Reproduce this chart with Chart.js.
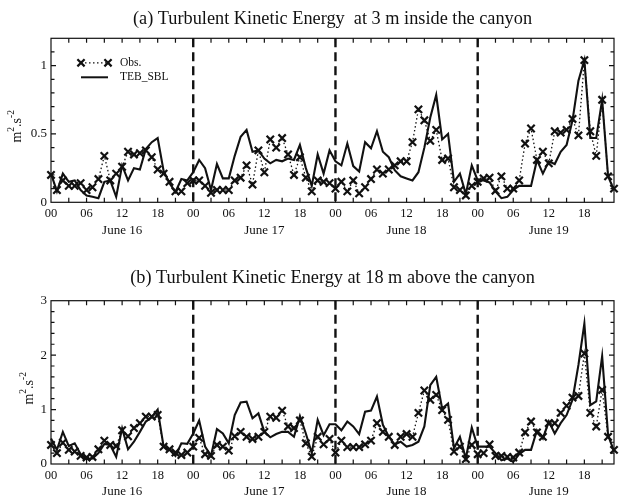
<!DOCTYPE html>
<html>
<head>
<meta charset="utf-8">
<script src="https://cdn.jsdelivr.net/npm/chart.js@4"></script>
<style>
  html, body { margin: 0; padding: 0; background: #fff; }
  body { width: 623px; height: 500px; position: relative; overflow: hidden; }
  canvas { position: absolute; left: 0; }
</style>
</head>
<body>
<canvas id="tke3m" width="623" height="250" style="top:0px"></canvas>
<canvas id="tke18m" width="623" height="246" style="top:254px"></canvas>
<script>
// Hourly samples, 00h June 16 through 23h June 19
const hours = Array.from({ length: 96 }, (_, i) => i);

// TKE at 3 m inside the canyon (m2.s-2)
const obs3m = [
  0.20, 0.09, 0.16, 0.12, 0.12, 0.14, 0.09, 0.11, 0.17, 0.34, 0.16, 0.21,
  0.26, 0.37, 0.35, 0.36, 0.38, 0.33, 0.24, 0.21, 0.15, 0.08, 0.08, 0.14,
  0.16, 0.16, 0.12, 0.07, 0.09, 0.09, 0.09, 0.16, 0.18, 0.27, 0.13, 0.38,
  0.22, 0.46, 0.40, 0.47, 0.35, 0.20, 0.33, 0.18, 0.08, 0.16, 0.15, 0.14,
  0.10, 0.15, 0.08, 0.16, 0.065, 0.11, 0.17, 0.24, 0.21, 0.24, 0.27, 0.30,
  0.30, 0.44, 0.68, 0.60, 0.45, 0.53, 0.31, 0.32, 0.11, 0.09, 0.05, 0.12,
  0.15, 0.175, 0.18, 0.085, 0.19, 0.10, 0.10, 0.16, 0.43, 0.54, 0.31, 0.37,
  0.285, 0.52, 0.51, 0.53, 0.61, 0.49, 1.04, 0.52, 0.34, 0.75, 0.19, 0.10
];
const teb3m = [
  0.21, 0.08, 0.21, 0.15, 0.16, 0.09, 0.05, 0.04, 0.03, 0.15, 0.16, 0.04,
  0.27, 0.16, 0.25, 0.24, 0.39, 0.44, 0.47, 0.23, 0.14, 0.075, 0.17, 0.16,
  0.22, 0.31, 0.25, 0.09, 0.28, 0.175, 0.175, 0.34, 0.48, 0.53, 0.37, 0.38,
  0.32, 0.285, 0.31, 0.30, 0.32, 0.31, 0.42, 0.25, 0.12, 0.35, 0.21, 0.38,
  0.30, 0.27, 0.43, 0.265, 0.225, 0.44, 0.395, 0.52, 0.37, 0.33, 0.235, 0.19,
  0.175, 0.16, 0.22, 0.40, 0.62, 0.785, 0.46, 0.50, 0.15, 0.21, 0.06, 0.27,
  0.16, 0.16, 0.145, 0.08, 0.03, 0.04, 0.09, 0.12, 0.12, 0.12, 0.31, 0.21,
  0.30, 0.28, 0.37, 0.42, 0.60, 0.89, 1.04, 0.47, 0.47, 0.75, 0.19, 0.09
];

// TKE at 18 m above the canyon (m2.s-2)
const obs18m = [
  0.35, 0.20, 0.39, 0.26, 0.23, 0.15, 0.12, 0.13, 0.27, 0.43, 0.35, 0.33,
  0.62, 0.51, 0.66, 0.75, 0.87, 0.87, 0.90, 0.32, 0.27, 0.21, 0.165, 0.21,
  0.32, 0.48, 0.18, 0.15, 0.35, 0.32, 0.245, 0.51, 0.59, 0.50, 0.46, 0.50,
  0.59, 0.87, 0.85, 0.98, 0.69, 0.66, 0.80, 0.38, 0.135, 0.50, 0.36, 0.46,
  0.21, 0.43, 0.31, 0.31, 0.31, 0.36, 0.43, 0.75, 0.59, 0.50, 0.35, 0.50,
  0.55, 0.50, 0.94, 1.35, 1.18, 1.27, 0.99, 0.81, 0.23, 0.32, 0.09, 0.35,
  0.18, 0.20, 0.36, 0.15, 0.15, 0.13, 0.12, 0.21, 0.58, 0.78, 0.58, 0.50,
  0.75, 0.75, 0.94, 1.07, 1.22, 1.25, 2.03, 0.94, 0.69, 1.36, 0.50, 0.26
];
const teb18m = [
  0.47, 0.26, 0.59, 0.33, 0.38, 0.18, 0.09, 0.10, 0.20, 0.37, 0.35, 0.13,
  0.655, 0.27, 0.41, 0.59, 0.78, 0.86, 1.00, 0.32, 0.26, 0.15, 0.38, 0.37,
  0.56, 0.80, 0.32, 0.15, 0.64, 0.56, 0.38, 0.90, 1.13, 1.145, 0.84, 0.93,
  0.59, 0.49, 0.55, 0.59, 0.59, 0.50, 0.88, 0.56, 0.20, 0.81, 0.53, 0.73,
  0.73, 0.62, 0.78, 0.69, 0.55, 0.96, 0.98, 1.24, 0.72, 0.50, 0.36, 0.41,
  0.32, 0.35, 0.41, 0.69, 1.45, 1.60, 1.02, 1.11, 0.29, 0.50, 0.10, 0.67,
  0.32, 0.32, 0.32, 0.20, 0.07, 0.10, 0.04, 0.18, 0.26, 0.26, 0.62, 0.47,
  0.78, 0.56, 0.75, 0.90, 1.18, 1.82, 2.58, 1.08, 1.15, 1.98, 0.53, 0.23
];

// Axis labelling
const hourTickLabels = ['00', '06', '12', '18'];
const dayLabels = ['June 16', 'June 17', 'June 18', 'June 19'];
const dayBreaks = [24, 48, 72];
const yTicks3m = [0, 0.5, 1];
const yTicks18m = [0, 1, 2, 3];
const seriesNames = ['Obs.', 'TEB_SBL'];

const SERIF = '"Liberation Serif", "Times New Roman", Times, serif';
const INK = '#111';

function crossMark(ctx, cx, cy, r) {
  ctx.moveTo(cx - r, cy - r); ctx.lineTo(cx + r, cy + r);
  ctx.moveTo(cx - r, cy + r); ctx.lineTo(cx + r, cy - r);
}

// Boxed axes with inward ticks, day separators, day names, unit label, title and legend
const axesFrame = {
  id: 'axesFrame',
  beforeDatasetsDraw(chart) {
    const { ctx, chartArea: a, scales: { x } } = chart;
    ctx.save();
    ctx.strokeStyle = INK;
    ctx.lineWidth = 2.4;
    ctx.setLineDash([9, 5]);
    dayBreaks.forEach(h => {
      const px = x.getPixelForValue(h);
      ctx.beginPath();
      ctx.moveTo(px, a.top);
      ctx.lineTo(px, a.bottom);
      ctx.stroke();
    });
    ctx.restore();
  },
  afterDraw(chart, args, o) {
    const { ctx, chartArea: a, scales: { x, y } } = chart;
    ctx.save();
    ctx.strokeStyle = INK;
    ctx.fillStyle = INK;
    ctx.lineWidth = 1.2;
    ctx.setLineDash([]);
    ctx.strokeRect(a.left, a.top, a.right - a.left, a.bottom - a.top);

    ctx.beginPath();
    for (let h = 3; h < x.max; h += 3) {
      const px = x.getPixelForValue(h);
      ctx.moveTo(px, a.bottom); ctx.lineTo(px, a.bottom - 4.5);
      ctx.moveTo(px, a.top); ctx.lineTo(px, a.top + 4.5);
    }
    const n = Math.round(y.max / o.yMinor);
    for (let i = 1; i < n; i++) {
      const v = i * o.yMinor;
      const major = o.yTicks.some(t => Math.abs(t - v) < 1e-6);
      const len = major ? 5 : 3.5;
      const py = y.getPixelForValue(v);
      ctx.moveTo(a.left, py); ctx.lineTo(a.left + len, py);
      ctx.moveTo(a.right, py); ctx.lineTo(a.right - len, py);
    }
    ctx.stroke();

    // panel title, centred over the plot box
    ctx.font = `18.3px ${SERIF}`;
    ctx.textAlign = 'center';
    ctx.textBaseline = 'alphabetic';
    ctx.fillText(o.title, (a.left + a.right) / 2, o.titleY);

    // day names under the hour labels
    ctx.font = `13px ${SERIF}`;
    ctx.textAlign = 'center';
    ctx.textBaseline = 'middle';
    dayLabels.forEach((d, i) => {
      ctx.fillText(d, x.getPixelForValue(12 + 24 * i), a.bottom + 28);
    });

    // unit label  m^2.s^-2, rotated
    ctx.save();
    const cy = (a.top + a.bottom) / 2 + 6;
    ctx.translate(o.unitX, cy);
    ctx.rotate(-Math.PI / 2);
    ctx.textAlign = 'left';
    ctx.textBaseline = 'alphabetic';
    const big = `14px ${SERIF}`, small = `9.5px ${SERIF}`;
    const parts = [['m', big, 0], ['2', small, -7], ['.s', big, 0], ['-2', small, -7]];
    let w = 0;
    parts.forEach(p => { ctx.font = p[1]; w += ctx.measureText(p[0]).width; });
    let cx = -w / 2;
    parts.forEach(p => {
      ctx.font = p[1];
      ctx.fillText(p[0], cx, p[2]);
      cx += ctx.measureText(p[0]).width;
    });
    ctx.restore();

    // legend
    if (o.legend) {
      const lx0 = a.left + 30, lx1 = a.left + 57, tx = a.left + 69;
      const r1 = a.top + 24.5, r2 = a.top + 39;
      ctx.lineWidth = 1.3;
      ctx.setLineDash([1.5, 2.5]);
      ctx.beginPath(); ctx.moveTo(lx0, r1); ctx.lineTo(lx1, r1); ctx.stroke();
      ctx.setLineDash([]);
      ctx.lineWidth = 2.2;
      ctx.beginPath(); crossMark(ctx, lx0, r1, 3.6); crossMark(ctx, lx1, r1, 3.6); ctx.stroke();
      ctx.lineWidth = 2;
      ctx.beginPath(); ctx.moveTo(lx0, r2); ctx.lineTo(lx1, r2); ctx.stroke();
      ctx.font = `11.5px ${SERIF}`;
      ctx.textAlign = 'left';
      ctx.textBaseline = 'middle';
      ctx.fillText(seriesNames[0], tx, r1);
      ctx.fillText(seriesNames[1], tx, r2);
    }
    ctx.restore();
  }
};

function buildChart(id, title, obs, teb, yMax, yTicks, cfg) {
  return new Chart(document.getElementById(id), {
    type: 'line',
    data: {
      datasets: [
        {
          label: seriesNames[0],
          data: hours.map((h, i) => ({ x: h, y: obs[i] })),
          borderColor: INK,
          borderWidth: 1.3,
          borderDash: [1.5, 2.5],
          pointStyle: 'crossRot',
          pointRadius: 5.2,
          pointBorderWidth: 2.2,
          pointBorderColor: INK,
          pointBackgroundColor: INK,
          tension: 0,
          clip: false
        },
        {
          label: seriesNames[1],
          data: hours.map((h, i) => ({ x: h, y: teb[i] })),
          borderColor: INK,
          borderWidth: 2.1,
          pointRadius: 0,
          tension: 0,
          clip: false
        }
      ]
    },
    options: {
      responsive: false,
      animation: false,
      devicePixelRatio: 1,
      layout: { padding: { left: 0, right: 9, top: cfg.plotTop, bottom: 0 } },
      plugins: {
        legend: { display: false },
        tooltip: { enabled: false },
        title: { display: false },
        axesFrame: {
          title: title, titleY: cfg.titleY, yMinor: cfg.yMinor, yTicks: yTicks,
          unitX: cfg.unitX, legend: cfg.legend
        }
      },
      scales: {
        x: {
          type: 'linear',
          min: 0,
          max: hours[hours.length - 1],
          grid: { display: false, drawTicks: false },
          border: { display: false },
          afterBuildTicks: s => {
            s.ticks = hours.filter(h => h % 6 === 0).map(v => ({ value: v }));
          },
          ticks: {
            autoSkip: false,
            maxRotation: 0,
            padding: 4,
            color: INK,
            font: { family: SERIF, size: 12.5 },
            callback: v => hourTickLabels[(v / 6) % 4]
          },
          afterFit: s => { s.height = cfg.xAxisH; }
        },
        y: {
          min: 0,
          max: yMax,
          grid: { display: false, drawTicks: false },
          border: { display: false },
          afterBuildTicks: s => { s.ticks = yTicks.map(v => ({ value: v })); },
          ticks: {
            padding: 4,
            color: INK,
            font: { family: SERIF, size: 13 },
            callback: v => String(v)
          },
          afterFit: s => { s.width = 51; }
        }
      }
    },
    plugins: [axesFrame]
  });
}

buildChart('tke3m', '(a) Turbulent Kinetic Energy  at 3 m inside the canyon',
  obs3m, teb3m, 1.2, yTicks3m,
  { plotTop: 38.3, titleY: 23.5, xAxisH: 47.7, yMinor: 0.1, unitX: 21, legend: true });

buildChart('tke18m', '(b) Turbulent Kinetic Energy at 18 m above the canyon',
  obs18m, teb18m, 3, yTicks18m,
  { plotTop: 46.7, titleY: 28.8, xAxisH: 36, yMinor: 0.2, unitX: 33, legend: false });
</script>
</body>
</html>
